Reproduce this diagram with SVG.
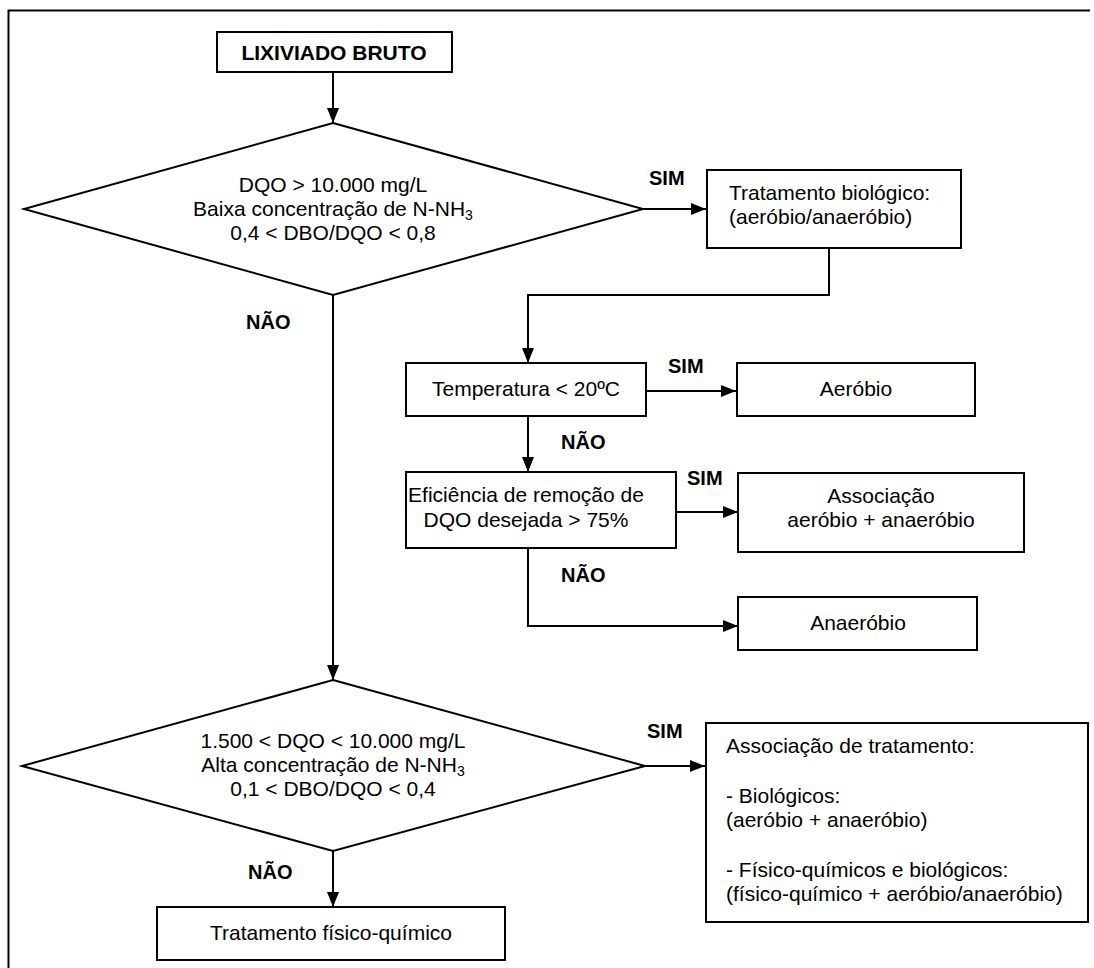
<svg xmlns="http://www.w3.org/2000/svg" width="1094" height="968" viewBox="0 0 1094 968">
  <defs>
    <marker id="arrow" viewBox="0 0 15 12" refX="15" refY="6" markerWidth="15" markerHeight="12" markerUnits="userSpaceOnUse" orient="auto">
      <path d="M0,0 L15,6 L0,12 Z" fill="#000"/>
    </marker>
    <style>
      .box { fill: #fff; stroke: #000; stroke-width: 2; }
      .dia { fill: #fff; stroke: #000; stroke-width: 2; }
      .wire { fill: none; stroke: #000; stroke-width: 2; }
      .arr { fill: none; stroke: #000; stroke-width: 2; marker-end: url(#arrow); }
      text { font-family: "Liberation Sans", Arial, sans-serif; fill: #000; }
      .t { font-size: 21px; }
      .c { text-anchor: middle; }
      .lbl { font-size: 20px; font-weight: bold; }
      .title { font-size: 21px; font-weight: bold; text-anchor: middle; }
      .sub { font-size: 14px; }
    </style>
  </defs>

  <rect width="1094" height="968" fill="#fff"/>

  <!-- page frame -->
  <path class="wire" d="M8.5,968 V10.5 H1090"/>

  <!-- connectors -->
  <g id="connectors">
    <line class="arr" x1="333" y1="72" x2="333" y2="123"/>
    <line class="arr" x1="643" y1="209" x2="706" y2="209"/>
    <polyline class="arr" points="829,248 829,295 528,295 528,363"/>
    <line class="arr" x1="646" y1="391" x2="736" y2="391"/>
    <line class="arr" x1="528" y1="416" x2="528" y2="472"/>
    <line class="arr" x1="676" y1="512" x2="738" y2="512"/>
    <polyline class="arr" points="528,548 528,626 738,626"/>
    <line class="arr" x1="333" y1="295" x2="333" y2="680"/>
    <line class="arr" x1="645" y1="766" x2="705" y2="766"/>
    <line class="arr" x1="333" y1="851" x2="333" y2="907"/>

    <text class="lbl" x="649" y="185">SIM</text>
    <text class="lbl" x="246" y="329">NÃO</text>
    <text class="lbl" x="668" y="373">SIM</text>
    <text class="lbl" x="561" y="449">NÃO</text>
    <text class="lbl" x="687" y="485">SIM</text>
    <text class="lbl" x="561" y="582">NÃO</text>
    <text class="lbl" x="647" y="738">SIM</text>
    <text class="lbl" x="248" y="879">NÃO</text>
  </g>

  <g id="lixiviado">
    <rect class="box" x="217" y="32" width="235" height="40"/>
    <text class="title" x="334" y="60">LIXIVIADO BRUTO</text>
  </g>

  <g id="decisao-dqo-alta">
    <polygon class="dia" points="333,123 643,209 333,295 24,209"/>
    <text class="t c" x="333" y="192">DQO &gt; 10.000 mg/L</text>
    <text class="t c" x="333" y="216">Baixa concentração de N-NH<tspan class="sub" dy="4">3</tspan></text>
    <text class="t c" x="333" y="240">0,4 &lt; DBO/DQO &lt; 0,8</text>
  </g>

  <g id="tratamento-biologico">
    <rect class="box" x="707" y="170" width="254" height="78"/>
    <text class="t" x="729" y="200">Tratamento biológico:</text>
    <text class="t" x="729" y="224">(aeróbio/anaeróbio)</text>
  </g>

  <g id="temperatura">
    <rect class="box" x="406" y="363" width="240" height="53"/>
    <text class="t c" x="526" y="396">Temperatura &lt; 20ºC</text>
  </g>

  <g id="aerobio">
    <rect class="box" x="737" y="363" width="238" height="53"/>
    <text class="t c" x="856" y="396">Aeróbio</text>
  </g>

  <g id="eficiencia">
    <rect class="box" x="406" y="472" width="270" height="76"/>
    <text class="t c" x="526" y="502">Eficiência de remoção de</text>
    <text class="t c" x="526" y="527">DQO desejada &gt; 75%</text>
  </g>

  <g id="associacao-aerobio-anaerobio">
    <rect class="box" x="738" y="473" width="286" height="79"/>
    <text class="t c" x="881" y="503">Associação</text>
    <text class="t c" x="881" y="527">aeróbio + anaeróbio</text>
  </g>

  <g id="anaerobio">
    <rect class="box" x="738" y="597" width="239" height="53"/>
    <text class="t c" x="858" y="630">Anaeróbio</text>
  </g>

  <g id="decisao-dqo-media">
    <polygon class="dia" points="333,680 645,766 333,851 22,766"/>
    <text class="t c" x="333" y="748">1.500 &lt; DQO &lt; 10.000 mg/L</text>
    <text class="t c" x="333" y="772">Alta concentração de N-NH<tspan class="sub" dy="4">3</tspan></text>
    <text class="t c" x="333" y="796">0,1 &lt; DBO/DQO &lt; 0,4</text>
  </g>

  <g id="associacao-tratamento">
    <rect class="box" x="706" y="723" width="382" height="199"/>
    <text class="t" x="726" y="753">Associação de tratamento:</text>
    <text class="t" x="726" y="803">- Biológicos:</text>
    <text class="t" x="726" y="827">(aeróbio + anaeróbio)</text>
    <text class="t" x="726" y="877">- Físico-químicos e biológicos:</text>
    <text class="t" x="726" y="901">(físico-químico + aeróbio/anaeróbio)</text>
  </g>

  <g id="fisico-quimico">
    <rect class="box" x="157" y="907" width="348" height="53"/>
    <text class="t c" x="331" y="940">Tratamento físico-químico</text>
  </g>
</svg>
